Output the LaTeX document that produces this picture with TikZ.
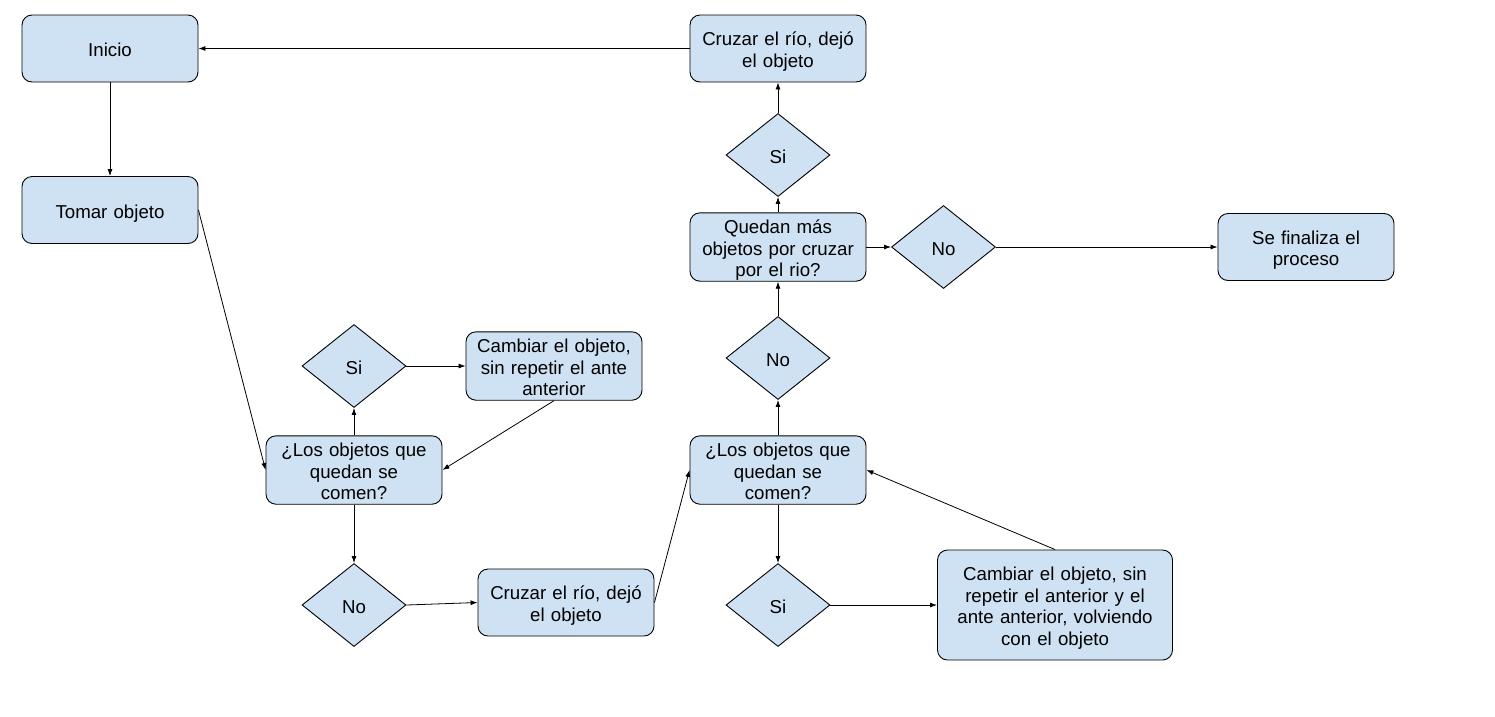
\documentclass[tikz,border=0pt]{standalone}
\usepackage{fontspec}
\setmainfont{Liberation Sans}
\usetikzlibrary{shapes.geometric,arrows.meta}
\definecolor{boxblue}{RGB}{207,226,243}

\begin{document}
\begin{tikzpicture}[x=1pt,y=-1pt,
    font=\fontsize{18.67}{21.5}\selectfont,
    lines/.style={execute at begin node={\rule{0pt}{20.9pt}}, execute at end node={\rule[-4.5pt]{0pt}{4.5pt}}},
    proc/.style={draw, fill=boxblue, line width=0.9pt, rounded corners=10pt, align=center, lines,
        text width=170pt, inner sep=0pt, minimum width=176pt, minimum height=67pt},
    decision/.style={draw, fill=boxblue, line width=0.9pt, diamond, inner sep=0pt, lines,
        minimum width=104pt, minimum height=83pt},
    flow/.style={-{Latex[length=7pt,width=5pt]}, line width=0.8pt}]
    \useasboundingbox (0,0) rectangle (1495,716);
    % Draw the boxes
    \node[proc] (inicio) at (110,48.5) {Inicio};
    \node[proc] (tomar) at (110,210) {Tomar objeto};
    \node[proc] (cruzarA) at (778,48.5) {Cruzar el río, dejó\\el objeto};
    \node[decision] (siA) at (778,155) {Si};
    \node[proc] (quedan) at (778,247) {Quedan más\\objetos por cruzar\\por el rio?};
    \node[decision] (noA) at (943.5,247) {No};
    \node[proc] (fin) at (1306,247) {Se finaliza el\\proceso};
    \node[decision] (noB) at (778,358) {No};
    \node[proc] (losB) at (778,470) {¿Los objetos que\\quedan se\\comen?};
    \node[decision] (siB) at (778,605) {Si};
    \node[proc, text width=228pt, minimum width=235pt, minimum height=110pt] (cambiarB) at (1055,605)
        {Cambiar el objeto, sin\\repetir el anterior y el\\ante anterior, volviendo\\con el objeto};
    \node[decision] (siC) at (354,366) {Si};
    \node[proc] (cambiarC) at (554,366) {Cambiar el objeto,\\sin repetir el ante\\anterior};
    \node[proc] (losC) at (354,470) {¿Los objetos que\\quedan se\\comen?};
    \node[decision] (noC) at (354,605) {No};
    \node[proc] (cruzarC) at (566,602.5) {Cruzar el río, dejó\\el objeto};
    % Connectors
    \draw[flow] (inicio) -- (tomar);
    \draw[flow] (tomar.east) -- (losC.west);
    \draw[flow] (losC) -- (siC);
    \draw[flow] (siC) -- (cambiarC);
    \draw[flow] (cambiarC.south) -- (losC.east);
    \draw[flow] (losC) -- (noC);
    \draw[flow] (noC.east) -- (cruzarC.west);
    \draw[flow] (cruzarC.east) -- (losB.west);
    \draw[flow] (losB) -- (siB);
    \draw[flow] (siB) -- (cambiarB);
    \draw[flow] (cambiarB.north) -- (losB.east);
    \draw[flow] (losB) -- (noB);
    \draw[flow] (noB) -- (quedan);
    \draw[flow] (quedan) -- (noA);
    \draw[flow] (noA) -- (fin);
    \draw[flow] (quedan) -- (siA);
    \draw[flow] (siA) -- (cruzarA);
    \draw[flow] (cruzarA) -- (inicio);
\end{tikzpicture}
\end{document}
